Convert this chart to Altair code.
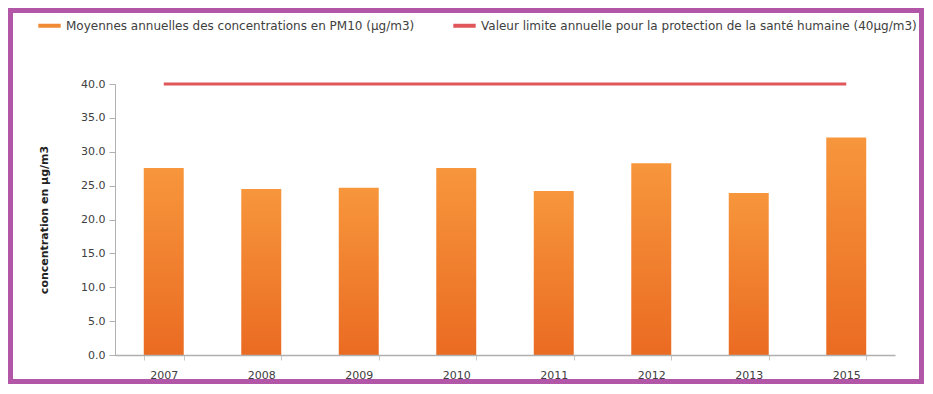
import altair as alt
import pandas as pd

years = ["2007", "2008", "2009", "2010", "2011", "2012", "2013", "2015"]
pm10 = [27.6, 24.5, 24.7, 27.6, 24.2, 28.3, 23.9, 32.1]
limit = [40.0, 40.0, 40.0, 40.0, 40.0, 40.0, 40.0, 40.0]
y_ticks = [0, 5, 10, 15, 20, 25, 30, 35, 40]
series_bar = "Moyennes annuelles des concentrations en PM10 (µg/m3)"
series_line = "Valeur limite annuelle pour la protection de la santé humaine (40µg/m3)"
y_title = "concentration en µg/m3"

FONT = "DejaVu Sans"
TXT = "#404040"
W, H = 780, 271

df = pd.DataFrame({"year": years, "pm10": pm10, "limit": limit,
                   "serie": [series_line] * len(years)})

x_scale = alt.Scale(paddingInner=0.59, paddingOuter=0.295)
x_axis = alt.Axis(title=None, labelAngle=0, labelFont=FONT, labelFontSize=11,
                  labelColor=TXT, labelPadding=9, tickBand="extent",
                  tickSize=5, tickColor="#c8c8c8", domainColor="#b0b0b0",
                  domainWidth=1.5, zindex=1)
y_scale = alt.Scale(domain=[0, 40], nice=False)
y_axis = alt.Axis(title=y_title, values=y_ticks, format=".1f", grid=False,
                  labelOverlap=False, tickCount=9,
                  labelFont=FONT, labelFontSize=11, labelColor=TXT, labelPadding=4,
                  tickSize=6, tickColor="#b0b0b0", domainColor="#b0b0b0",
                  titleFont=FONT, titleFontSize=11, titleFontWeight="bold",
                  titleColor="#222222", titlePadding=31, zindex=1)

frame = alt.Chart(pd.DataFrame({"k": [0]})).mark_rect(
    fill="white", stroke="#b257a7", strokeWidth=5
).encode(x=alt.value(-104.5), x2=alt.value(806.5), y=alt.value(-73.5), y2=alt.value(297.5))

bars = alt.Chart(df).mark_bar(
    color=alt.Gradient(gradient="linear",
                       stops=[alt.GradientStop(color="#f7963c", offset=0),
                              alt.GradientStop(color="#ea6b22", offset=1)],
                       x1=0, x2=0, y1=0, y2=1)
).encode(
    x=alt.X("year:N", sort=years, scale=x_scale, axis=x_axis),
    y=alt.Y("pm10:Q", scale=y_scale, axis=y_axis),
)

line = alt.Chart(df).mark_line(strokeWidth=3).encode(
    x=alt.X("year:N", sort=years, scale=x_scale, axis=x_axis),
    y=alt.Y("limit:Q", scale=y_scale, axis=y_axis),
    color=alt.Color("serie:N",
                    scale=alt.Scale(domain=[series_bar, series_line],
                                    range=["#f08a35", "#e0565a"]),
                    legend=alt.Legend(title=None, orient="none", legendX=-79, legendY=-72,
                                      direction="horizontal", symbolType="stroke",
                                      symbolSize=500, symbolStrokeWidth=4,
                                      labelFont=FONT, labelFontSize=12, labelColor=TXT,
                                      labelLimit=600, columnPadding=30, labelOffset=3,
                                      padding=0)),
)

chart = alt.layer(frame, bars, line).properties(
    width=W, height=H, padding=0
).configure_view(stroke=None).configure(background="white")

chart.save("out.html", embed_options={"renderer": "svg", "actions": False})
